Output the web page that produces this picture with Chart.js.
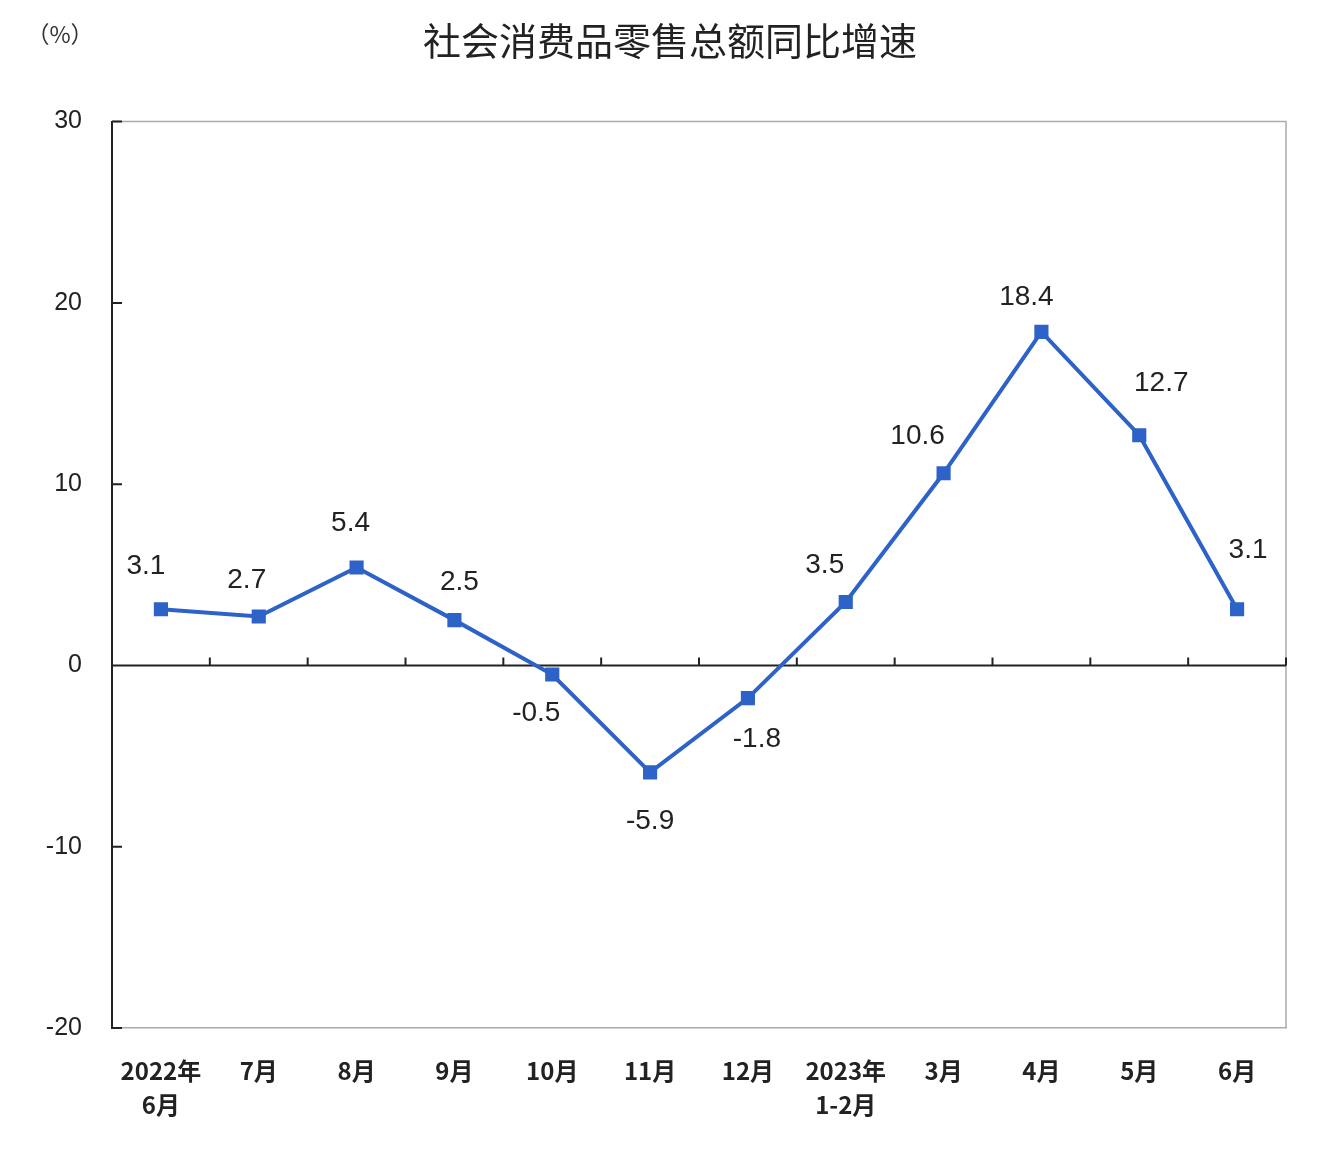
<!DOCTYPE html>
<html>
<head>
<meta charset="utf-8">
<script src="https://cdn.jsdelivr.net/npm/chart.js@4.4.0/dist/chart.umd.min.js"></script>
<style>
  html, body { margin: 0; padding: 0; background: #fff; }
  canvas { display: block; }
</style>
</head>
<body>
<canvas id="chart" width="1340" height="1156"></canvas>
<script>
// 月份（类别）
const months = [["2022年", "6月"], "7月", "8月", "9月", "10月", "11月", "12月", ["2023年", "1-2月"], "3月", "4月", "5月", "6月"];
// 社会消费品零售总额同比增速 (%)
const growth = [3.1, 2.7, 5.4, 2.5, -0.5, -5.9, -1.8, 3.5, 10.6, 18.4, 12.7, 3.1];
// 纵轴刻度
const yMin = -20, yMax = 30, yStep = 10;

// 数值标签相对数据点的偏移
const labelDx = [-15, -12, -6, 5, -16, 0, 9, -21, -26, -15, 22, 11];
const labelDy = [-43, -36, -44, -38, 39, 49, 41, -37, -37, -35, -52, -59];

const BLUE = "#2d62c8";
const CJK = "'Noto Sans CJK SC', sans-serif";
const LATIN = "'Liberation Sans', Arial, sans-serif";

// 边框、零线、内向刻度
const framePlugin = {
  id: "frame",
  beforeDatasetsDraw(chart) {
    const { ctx, chartArea: a, scales: { x, y } } = chart;
    ctx.save();
    ctx.strokeStyle = "#ababab";
    ctx.lineWidth = 1.5;
    ctx.beginPath();
    ctx.moveTo(a.left, a.top);
    ctx.lineTo(a.right, a.top);
    ctx.lineTo(a.right, a.bottom);
    ctx.stroke();

    ctx.strokeStyle = "#222";
    ctx.lineWidth = 2;
    ctx.beginPath();
    y.ticks.forEach(t => {
      const py = y.getPixelForValue(t.value);
      ctx.moveTo(a.left, py);
      ctx.lineTo(a.left + 10, py);
    });
    const y0 = y.getPixelForValue(0);
    ctx.moveTo(a.left, y0);
    ctx.lineTo(a.right, y0);
    for (let i = 0; i < months.length; i++) {
      const px = x.getPixelForValue(i + 0.5);
      ctx.moveTo(px, y0);
      ctx.lineTo(px, y0 - 8);
    }
    ctx.stroke();

    // 单位
    ctx.fillStyle = "#333";
    ctx.font = "23px " + CJK;
    ctx.textAlign = "center";
    ctx.textBaseline = "middle";
    ctx.fillText("（%）", 60, 34);
    ctx.restore();
  }
};

// 数值标签
const valuePlugin = {
  id: "values",
  afterDatasetsDraw(chart) {
    const { ctx } = chart;
    const meta = chart.getDatasetMeta(0);
    ctx.save();
    ctx.fillStyle = "#222";
    ctx.font = "28px " + LATIN;
    ctx.textAlign = "center";
    ctx.textBaseline = "middle";
    meta.data.forEach((pt, i) => {
      ctx.fillText(growth[i].toFixed(1), pt.x + labelDx[i], pt.y + labelDy[i]);
    });
    ctx.restore();
  }
};

new Chart(document.getElementById("chart"), {
  type: "line",
  data: {
    labels: months,
    datasets: [{
      data: growth,
      borderColor: BLUE,
      backgroundColor: BLUE,
      borderWidth: 4,
      pointStyle: "rect",
      pointRadius: 10,
      pointBorderWidth: 0,
      tension: 0,
    }]
  },
  options: {
    responsive: false,
    animation: false,
    layout: { padding: 0 },
    plugins: {
      legend: { display: false },
      tooltip: { enabled: false },
      title: {
        display: true,
        text: "社会消费品零售总额同比增速",
        color: "#222",
        font: { family: CJK, size: 38, weight: "normal" },
        padding: { top: 18, bottom: 58 },
      },
    },
    scales: {
      x: {
        offset: true,
        grid: { display: false, drawTicks: false },
        border: { display: true, color: "#ababab", width: 1.5 },
        ticks: {
          color: "#222",
          padding: 25,
          maxRotation: 0,
          autoSkip: false,
          font: { family: CJK, size: 24, weight: "bold", lineHeight: 1.45 },
        },
        afterFit(scale) { scale.height = 128; },
      },
      y: {
        min: yMin,
        max: yMax,
        grid: { display: false, drawTicks: false },
        border: { display: true, color: "#222", width: 2 },
        ticks: {
          stepSize: yStep,
          color: "#222",
          padding: 30,
          font: { family: LATIN, size: 25 },
        },
        afterFit(scale) { scale.width = 112; },
      },
      // 右侧留白
      yRight: {
        position: "right",
        grid: { display: false, drawTicks: false },
        border: { display: false },
        ticks: { display: false },
        afterFit(scale) { scale.width = 54; },
      },
    },
  },
  plugins: [framePlugin, valuePlugin],
});
</script>
</body>
</html>
